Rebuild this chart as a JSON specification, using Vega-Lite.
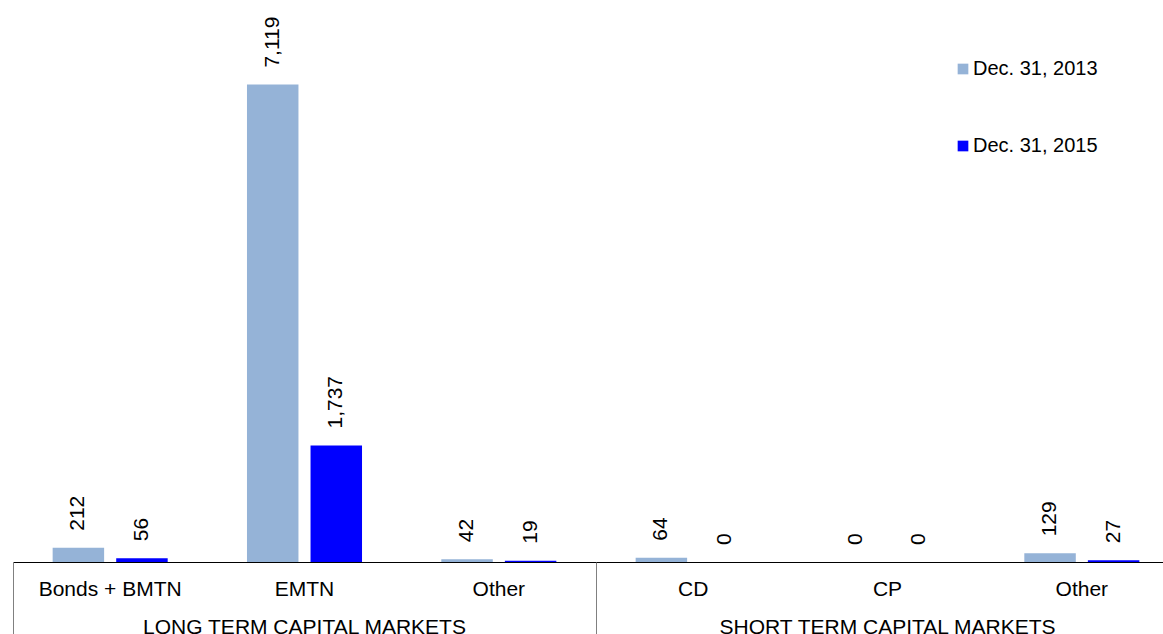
{
  "$schema": "https://vega.github.io/schema/vega-lite/v6.json",
  "width": 1150,
  "height": 562,
  "autosize": {"type": "none"},
  "padding": {"left": 13, "top": 0, "right": 0, "bottom": 72},
  "config": {"view": {"stroke": null}, "font": "Liberation Sans"},
  "datasets": {
    "issuance": [
      {"item": "Bonds + BMTN", "group": "LONG TERM CAPITAL MARKETS", "series": "Dec. 31, 2013", "amount": 212},
      {"item": "Bonds + BMTN", "group": "LONG TERM CAPITAL MARKETS", "series": "Dec. 31, 2015", "amount": 56},
      {"item": "EMTN", "group": "LONG TERM CAPITAL MARKETS", "series": "Dec. 31, 2013", "amount": 7119},
      {"item": "EMTN", "group": "LONG TERM CAPITAL MARKETS", "series": "Dec. 31, 2015", "amount": 1737},
      {"item": "Other (long term)", "group": "LONG TERM CAPITAL MARKETS", "series": "Dec. 31, 2013", "amount": 42},
      {"item": "Other (long term)", "group": "LONG TERM CAPITAL MARKETS", "series": "Dec. 31, 2015", "amount": 19},
      {"item": "CD", "group": "SHORT TERM CAPITAL MARKETS", "series": "Dec. 31, 2013", "amount": 64},
      {"item": "CD", "group": "SHORT TERM CAPITAL MARKETS", "series": "Dec. 31, 2015", "amount": 0},
      {"item": "CP", "group": "SHORT TERM CAPITAL MARKETS", "series": "Dec. 31, 2013", "amount": 0},
      {"item": "CP", "group": "SHORT TERM CAPITAL MARKETS", "series": "Dec. 31, 2015", "amount": 0},
      {"item": "Other (short term)", "group": "SHORT TERM CAPITAL MARKETS", "series": "Dec. 31, 2013", "amount": 129},
      {"item": "Other (short term)", "group": "SHORT TERM CAPITAL MARKETS", "series": "Dec. 31, 2015", "amount": 27}
    ],
    "markets": [
      {"group": "LONG TERM CAPITAL MARKETS"},
      {"group": "SHORT TERM CAPITAL MARKETS"}
    ]
  },
  "layer": [
    {
      "data": {"name": "issuance"},
      "encoding": {
        "x": {
          "field": "item",
          "type": "nominal",
          "sort": ["Bonds + BMTN", "EMTN", "Other (long term)", "CD", "CP", "Other (short term)"],
          "scale": {"range": [0, 1166], "paddingInner": 0.408, "paddingOuter": 0.204},
          "axis": {
            "orient": "bottom",
            "title": null,
            "labelAngle": 0,
            "labelFontSize": 21,
            "labelColor": "black",
            "labelFont": "Liberation Sans",
            "labelPadding": 16,
            "ticks": false,
            "domainColor": "black",
            "domainWidth": 1,
            "grid": false,
            "labelExpr": "split(datum.label, ' (')[0]"
          }
        },
        "xOffset": {
          "field": "series",
          "type": "nominal",
          "sort": ["Dec. 31, 2013", "Dec. 31, 2015"],
          "scale": {"paddingInner": 0.19, "paddingOuter": 0}
        },
        "y": {
          "field": "amount",
          "type": "quantitative",
          "scale": {"domain": [0, 8380], "nice": false, "zero": true},
          "axis": null
        }
      },
      "layer": [
        {
          "mark": {"type": "bar"},
          "encoding": {
            "color": {
              "field": "series",
              "type": "nominal",
              "scale": {"domain": ["Dec. 31, 2013", "Dec. 31, 2015"], "range": ["#95B3D7", "#0000FF"]},
              "legend": {
                "title": null,
                "orient": "none",
                "legendX": 940,
                "legendY": 59,
                "direction": "vertical",
                "symbolType": "square",
                "symbolSize": 114,
                "symbolStrokeWidth": 0,
                "labelFontSize": 20,
                "labelFont": "Liberation Sans",
                "labelColor": "black",
                "labelOffset": 0,
                "rowPadding": 57
              }
            }
          }
        },
        {
          "mark": {
            "type": "text",
            "angle": 270,
            "align": "left",
            "baseline": "middle",
            "dx": 17,
            "fontSize": 21,
            "font": "Liberation Sans",
            "color": "black"
          },
          "encoding": {
            "text": {"field": "amount", "type": "quantitative", "format": ",d"}
          }
        }
      ]
    },
    {
      "data": {"name": "markets"},
      "mark": {
        "type": "text",
        "dy": 72,
        "baseline": "alphabetic",
        "fontSize": 21,
        "font": "Liberation Sans",
        "color": "black"
      },
      "encoding": {
        "x": {
          "field": "group",
          "type": "nominal",
          "sort": null,
          "scale": {"range": [0, 1166], "paddingInner": 0, "paddingOuter": 0},
          "axis": {
            "orient": "bottom",
            "title": null,
            "labels": false,
            "domain": false,
            "grid": false,
            "ticks": true,
            "tickBand": "extent",
            "tickSize": 72,
            "tickColor": "#808080",
            "tickWidth": 1
          }
        },
        "y": {"datum": 0, "type": "quantitative", "axis": null},
        "text": {"field": "group"}
      }
    }
  ],
  "resolve": {"scale": {"x": "independent"}}
}
